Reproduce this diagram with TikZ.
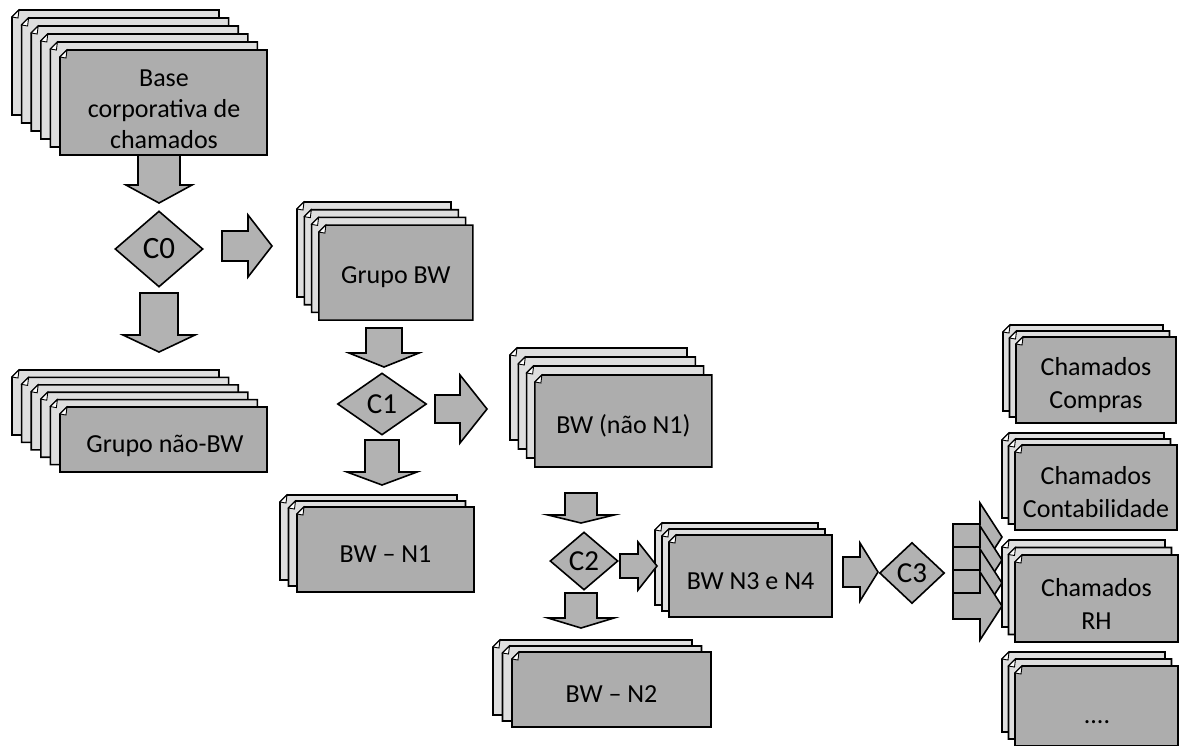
\documentclass[tikz,border=0pt]{standalone}
\usepackage{fontspec}
\setmainfont{Carlito}
\usetikzlibrary{shapes.geometric}
\tikzset{
 backsheet/.style={draw=black, line width=1.6pt, fill=black!13, line join=miter},
 frontsheet/.style={draw=black, line width=1.6pt, fill=black!32, line join=miter},
 fold/.style={draw=black, line width=0.9pt, fill=white},
 boxtext/.style={font=\fontsize{26}{33}\selectfont, align=center, inner sep=0pt, yshift=-5pt},
 dec/.style={diamond, draw=black, line width=1.6pt, fill=black!30, inner sep=0pt, font=\fontsize{29}{30}\selectfont},
 blockarrow/.style={draw=black, line width=1.6pt, fill=black!30, line join=miter},
}
\newcommand\docsheet[5]{%
 \filldraw[#5] (#1+7,#2) -- (#1+#3,#2) -- (#1+#3,#2+#4) -- (#1,#2+#4) -- (#1,#2+7) -- cycle;
 \filldraw[fold] (#1,#2+7) -- (#1+7,#2) -- (#1+6,#2+8) -- cycle;}
\newcommand\docstack[9]{%
 \foreach \i in {1,...,#6}{%
   \pgfmathsetmacro\xx{#2+(\i-1)*#4}%
   \pgfmathsetmacro\yy{#3+(\i-1)*#5}%
   \ifnum\i=#6\relax\docsheet{\xx}{\yy}{#7}{#8}{frontsheet}\else\docsheet{\xx}{\yy}{#7}{#8}{backsheet}\fi}%
 \node[boxtext] (#1) at ({#2+(#6-1)*#4+#7/2},{#3+(#6-1)*#5+#8/2}) {#9};}
\newcommand\rarrow[7]{%
 \draw[blockarrow] (#2,#4-#5) -- (#7,#4-#5) -- (#7,#4-#6) -- (#3,#4) -- (#7,#4+#6) -- (#7,#4+#5) -- (#2,#4+#5) -- cycle;
 \coordinate (#1) at (#3,#4);}
\newcommand\darrow[7]{%
 \draw[blockarrow] (#4-#5,#2) -- (#4-#5,#7) -- (#4-#6,#7) -- (#4,#3) -- (#4+#6,#7) -- (#4+#5,#7) -- (#4+#5,#2) -- cycle;
 \coordinate (#1) at (#4,#3);}
\begin{document}
\begin{tikzpicture}[x=1pt,y=-1pt]
\useasboundingbox (0,0) rectangle (1182,745);
% stacks
\docstack{base}{12}{10}{9.6}{8}{6}{207}{105}{}
\node[boxtext, font=\fontsize{26}{31}\selectfont] (basetxt) at (164,104) {Base\\corporativa de\\chamados};
\docstack{naobw}{12}{370}{9.6}{7.4}{6}{207}{65}{}
\node[boxtext] (naobwtxt) at (165,441) {Grupo não-BW};
\docstack{grupobw}{297}{202}{7.3}{7.7}{4}{154}{95}{Grupo BW}
\docstack{bwnaon1}{510}{348}{8.3}{9}{4}{177}{92}{BW (não N1)}
\docstack{bwn1}{280}{495}{8.5}{6}{3}{177}{85}{BW -- N1}
\docstack{bwn2}{493}{640}{9.5}{6}{3}{199}{75}{BW -- N2}
\docstack{bwn34}{655}{523}{7}{6}{3}{163}{82}{BW N3 e N4}
\docstack{compras}{1003}{325}{6.5}{6}{3}{160}{86}{Chamados\\Compras}
\docstack{contab}{1002}{433}{6.5}{6}{3}{162}{85}{Chamados\\Contabilidade}
\docstack{rh}{1002}{540}{6.5}{7.5}{3}{163}{87}{Chamados\\RH}
\docstack{etc}{1002}{652}{6.5}{7}{3}{163}{80}{}
\node[boxtext] (etctxt) at (1097,717) {....};
% block arrows
\darrow{a1}{155}{203}{159}{21}{33}{185}
\darrow{a2}{293}{352}{159}{19}{36}{335}
\rarrow{a3}{222}{272}{246}{15}{31}{248}
\darrow{a4}{328}{367}{384}{18}{35}{353}
\rarrow{a5}{435}{487}{409}{14}{34}{460}
\darrow{a6}{440}{485}{382}{17}{35}{472}
\darrow{a7}{493}{523}{581}{16}{33}{515}
\darrow{a8}{593}{628}{581}{16}{33}{618}
\rarrow{a9}{620}{657}{566}{12}{24}{638}
\rarrow{a10}{843}{878}{572}{15}{29}{860}
\rarrow{a11}{953}{1002}{537}{13}{34}{980}
\rarrow{a12}{953}{1002}{560}{13}{34}{980}
\rarrow{a13}{953}{1002}{583}{13}{34}{980}
\rarrow{a14}{953}{1002}{606}{13}{34}{980}
% decisions
\node[dec, minimum width=88pt, minimum height=76pt, font=\fontsize{31}{32}\selectfont] (c0) at (159,249) {C0};
\node[dec, minimum width=89pt, minimum height=62pt] (c1) at (382,404) {C1};
\node[dec, minimum width=68pt, minimum height=58pt] (c2) at (584,561) {C2};
\node[dec, minimum width=65pt, minimum height=61pt] (c3) at (912,573) {C3};
\end{tikzpicture}
\end{document}
